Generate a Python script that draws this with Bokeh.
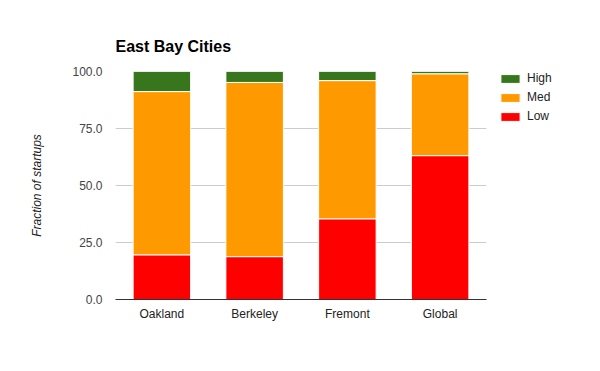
from bokeh.plotting import figure
from bokeh.models import (Range1d, FixedTicker, NumeralTickFormatter, Legend, LegendItem,
                          ColumnDataSource)
from bokeh.embed import file_html
from bokeh.resources import INLINE

cities = ["Oakland", "Berkeley", "Fremont", "Global"]
low = [19.6, 18.8, 35.4, 63.1]
med = [71.6, 76.4, 60.6, 35.9]
high = [8.8, 4.8, 4.0, 1.0]
levels = ["Low", "Med", "High"]
colors = ["#ff0000", "#ff9900", "#38761d"]
y_ticks = [0, 25, 50, 75, 100]

FONT = "Liberation Sans"

n = len(cities)
xpos = [i + 0.5 for i in range(n)]
# the frame also holds the legend to its right: the category area is 371 px of a 469 px frame
x_end = n * 469 / 371

p = figure(width=584, height=355, x_range=Range1d(0, x_end),
           y_range=Range1d(0, 100), output_backend="svg", toolbar_location=None,
           min_border_left=115, min_border_right=0, min_border_top=71, min_border_bottom=56)

src = ColumnDataSource({"x": xpos, "Low": low, "Med": med, "High": high})
renderers = p.vbar_stack(levels, x="x", width=0.62, color=colors, source=src,
                         line_color="white", line_width=1)

p.title.text = "East Bay Cities"
p.title.text_font = FONT
p.title.text_font_size = "16px"
p.title.text_font_style = "bold"
p.title.text_color = "#000000"
p.title.align = "left"
p.title.offset = 0
p.title.standoff = 33

p.outline_line_color = None
p.xgrid.grid_line_color = None
p.ygrid.grid_line_color = "#cccccc"
p.ygrid.cross_bounds = (0, n)
p.yaxis.ticker = FixedTicker(ticks=y_ticks)
p.yaxis.formatter = NumeralTickFormatter(format="0.0")
p.yaxis.axis_line_color = None
p.yaxis.major_tick_line_color = None
p.yaxis.minor_tick_line_color = None
p.yaxis.major_tick_out = 0
p.yaxis.minor_tick_out = 0
p.yaxis.major_label_standoff = 13
p.yaxis.major_label_text_font = FONT
p.yaxis.major_label_text_font_size = "12px"
p.yaxis.major_label_text_color = "#444444"
p.yaxis.axis_label = "Fraction of startups"
p.yaxis.axis_label_text_font = FONT
p.yaxis.axis_label_text_font_size = "12px"
p.yaxis.axis_label_text_font_style = "italic"
p.yaxis.axis_label_text_color = "#222222"
p.yaxis.axis_label_standoff = 25

p.xaxis.bounds = (0, n)
p.xaxis.ticker = FixedTicker(ticks=xpos)
p.xaxis.major_label_overrides = {x: c for x, c in zip(xpos, cities)}
p.xaxis.axis_line_color = "#333333"
p.xaxis.major_tick_line_color = None
p.xaxis.minor_tick_line_color = None
p.xaxis.major_tick_out = 0
p.xaxis.minor_tick_out = 0
p.xaxis.major_label_standoff = 7
p.xaxis.major_label_text_font = FONT
p.xaxis.major_label_text_font_size = "12px"
p.xaxis.major_label_text_color = "#222222"

items = [LegendItem(label=levels[i], renderers=[renderers[i]]) for i in (2, 1, 0)]
legend = Legend(items=items, location=(383, 176), orientation="vertical",
                glyph_width=24, glyph_height=11, label_standoff=5, spacing=5,
                label_height=11, padding=0, margin=0,
                border_line_color=None, background_fill_alpha=0,
                label_text_font=FONT, label_text_font_size="12px", label_text_color="#222222")
p.add_layout(legend)

open("out.html", "w").write(file_html(p, INLINE))
